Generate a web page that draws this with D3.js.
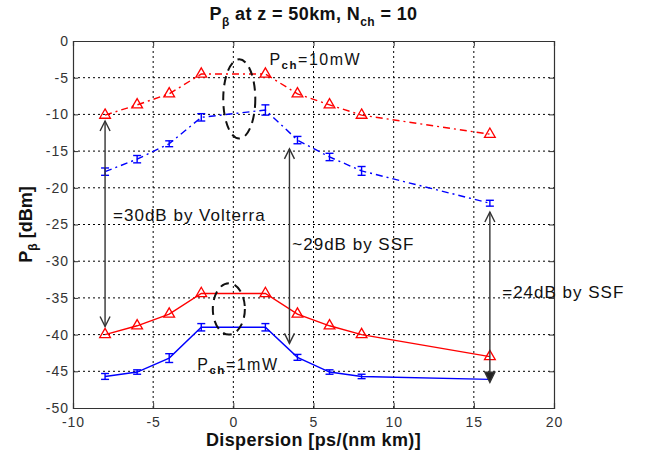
<!DOCTYPE html>
<html>
<head>
<meta charset="utf-8">
<script src="https://cdn.jsdelivr.net/npm/d3@7"></script>
<style>
  body { margin: 0; background: #fff; }
  text { font-family: "Liberation Sans", Arial, sans-serif; }
</style>
</head>
<body>
<div class="svgContainer"></div>
<script>
// Data
var DISPERSION = [-8, -6, -4, -2, 2, 4, 6, 8, 16];
var VOLTERRA_10MW = [-10.1, -8.7, -7.2, -4.5, -4.5, -7.2, -8.7, -10.1, -12.7];
var SSF_10MW = [-17.8, -16.1, -14.0, -10.4, -9.4, -13.5, -15.8, -17.7, -22.1];
var SSF_10MW_ERR = [0.5, 0.5, 0.4, 0.5, 0.7, 0.5, 0.5, 0.6, 0.4];
var VOLTERRA_1MW = [-40.0, -38.8, -37.2, -34.4, -34.4, -37.2, -38.8, -40.0, -43.0];
var SSF_1MW = [-45.7, -45.1, -43.2, -39.0, -39.0, -43.1, -45.1, -45.7, -46.1];
var SSF_1MW_ERR = [0.4, 0.3, 0.6, 0.5, 0.5, 0.4, 0.3, 0.3, 0];
var X_TICKS = [-10, -5, 0, 5, 10, 15, 20];
var Y_TICKS = [0, -5, -10, -15, -20, -25, -30, -35, -40, -45, -50];

// Margin
var margin = {left: 73, right: 94, top: 41, bottom: 46},
    width = 648 - margin.left - margin.right,
    height = 454 - margin.top - margin.bottom;

var svg = d3.select(".svgContainer").append("svg")
    .attr("width", 648)
    .attr("height", 454);

var g = svg.append("g")
    .attr("transform", "translate(" + margin.left + "," + margin.top + ")");

var x = d3.scaleLinear().domain([-10, 20]).range([0, width]);
var y = d3.scaleLinear().domain([-50, 0]).range([height, 0]);

// grid
g.selectAll(".vgrid").data(X_TICKS.slice(1, -1)).enter().append("line")
    .attr("x1", function(d) { return x(d); }).attr("x2", function(d) { return x(d); })
    .attr("y1", 0).attr("y2", height)
    .attr("stroke", "#000").attr("stroke-width", 1).attr("stroke-dasharray", "2,3");
g.selectAll(".hgrid").data(Y_TICKS.slice(1, -1)).enter().append("line")
    .attr("y1", function(d) { return y(d); }).attr("y2", function(d) { return y(d); })
    .attr("x1", 0).attr("x2", width)
    .attr("stroke", "#000").attr("stroke-width", 1).attr("stroke-dasharray", "2,3");

// axes (ticks inward, MATLAB style), plain hyphen minus in labels
var fmt = function(d) { return String(d); };
g.append("g").attr("transform", "translate(0," + height + ")")
    .call(d3.axisBottom(x).tickValues(X_TICKS).tickSize(-5).tickPadding(9).tickFormat(fmt));
g.append("g")
    .call(d3.axisLeft(y).tickValues(Y_TICKS).tickSize(-5).tickPadding(4).tickFormat(fmt));
g.append("g").call(d3.axisTop(x).tickValues(X_TICKS).tickSize(-5).tickFormat(""));
g.append("g").attr("transform", "translate(" + width + ",0)")
    .call(d3.axisRight(y).tickValues(Y_TICKS).tickSize(-5).tickFormat(""));
g.selectAll(".domain").attr("stroke", "#333").attr("stroke-width", 1.2);
g.selectAll(".tick line").attr("stroke", "#333");
g.selectAll(".tick text").attr("font-size", 14).attr("fill", "#333").attr("letter-spacing", 1)
    .attr("font-family", "'Liberation Sans', Arial, sans-serif");

function pts(ys) {
    return DISPERSION.map(function(d, i) { return [d, ys[i]]; });
}
var line = d3.line().x(function(d) { return x(d[0]); }).y(function(d) { return y(d[1]); });

function drawSeries(ys, color, dashed) {
    g.append("path").datum(pts(ys))
        .attr("d", line).attr("fill", "none")
        .attr("stroke", color).attr("stroke-width", 1.4)
        .attr("stroke-dasharray", dashed ? "7,4,2,4" : null);
}

function drawTriangles(ys) {
    g.selectAll(null).data(pts(ys)).enter().append("path")
        .attr("d", d3.symbol().type(d3.symbolTriangle).size(50))
        .attr("transform", function(d) { return "translate(" + x(d[0]) + "," + y(d[1]) + ")"; })
        .attr("fill", "none").attr("stroke", "#ff0000").attr("stroke-width", 1.3);
}

function drawErrors(ys, errs) {
    var data = DISPERSION.map(function(d, i) { return [d, ys[i], errs[i]]; })
        .filter(function(d) { return d[2] > 0; });
    var eb = g.selectAll(null).data(data).enter().append("g")
        .attr("stroke", "#0000ff").attr("stroke-width", 1.4);
    eb.append("line")
        .attr("x1", function(d) { return x(d[0]); }).attr("x2", function(d) { return x(d[0]); })
        .attr("y1", function(d) { return y(d[1] - d[2]); }).attr("y2", function(d) { return y(d[1] + d[2]); });
    [-1, 1].forEach(function(s) {
        eb.append("line")
            .attr("x1", function(d) { return x(d[0]) - 4; }).attr("x2", function(d) { return x(d[0]) + 4; })
            .attr("y1", function(d) { return y(d[1] + s * d[2]); }).attr("y2", function(d) { return y(d[1] + s * d[2]); });
    });
}

drawSeries(VOLTERRA_10MW, "#ff0000", true);
drawSeries(SSF_10MW, "#0000ff", true);
drawSeries(VOLTERRA_1MW, "#ff0000", false);
drawSeries(SSF_1MW, "#0000ff", false);
drawTriangles(VOLTERRA_10MW);
drawTriangles(VOLTERRA_1MW);
drawErrors(SSF_10MW, SSF_10MW_ERR);
drawErrors(SSF_1MW, SSF_1MW_ERR);

// dashed ellipses around D = 0
g.append("ellipse").attr("cx", x(0.37)).attr("cy", y(-7.9))
    .attr("rx", x(1) - x(0)).attr("ry", y(-5.4) - y(0))
    .attr("fill", "none").attr("stroke", "#111").attr("stroke-width", 2).attr("stroke-dasharray", "9,6");
g.append("ellipse").attr("cx", x(-0.28)).attr("cy", y(-36.5))
    .attr("rx", x(1) - x(0)).attr("ry", y(-3.5) - y(0))
    .attr("fill", "none").attr("stroke", "#111").attr("stroke-width", 2).attr("stroke-dasharray", "9,6");

// arrows
function arrowHead(xd, yd, dir, filled) {
    var px = x(xd), py = y(yd);
    var p = d3.path();
    p.moveTo(px - 5, py - dir * 10);
    p.lineTo(px, py);
    p.lineTo(px + 5, py - dir * 10);
    if (filled) p.closePath();
    g.append("path").attr("d", p.toString())
        .attr("fill", filled ? "#222" : "none").attr("stroke", "#333").attr("stroke-width", 1.4);
}
function arrow(xd, y0, y1, filledBottom) {
    g.append("line").attr("x1", x(xd)).attr("x2", x(xd))
        .attr("y1", y(y0)).attr("y2", y(y1))
        .attr("stroke", "#333").attr("stroke-width", 1.4);
    arrowHead(xd, y0, -1, false);
    arrowHead(xd, y1, 1, filledBottom);
}
arrow(-8, -10.9, -38.9, false);
arrow(3.5, -14.7, -41.2, false);
arrow(16, -23.3, -46.5, true);

// annotation texts
function label(xd, yd, parts, size, spacing) {
    var t = g.append("text").attr("x", x(xd)).attr("y", y(yd))
        .attr("font-size", size).attr("fill", "#111").attr("letter-spacing", spacing);
    parts.forEach(function(p) {
        t.append("tspan").text(p[0])
            .attr("font-size", p[1] ? size * 0.72 : size)
            .attr("font-weight", p[1] ? "bold" : null)
            .attr("dy", p[1] ? 4 : (p[2] ? -4 : 0));
    });
}
label(2.25, -3.27, [["P"], ["ch", true], ["=10mW", false, true]], 16, 1.5);
label(-7.5, -24.5, [["=30dB by Volterra"]], 17, 1);
label(3.68, -28.5, [["~29dB by SSF"]], 17, 1);
label(16.77, -35.0, [["=24dB by SSF"]], 17, 1);
label(-2.25, -44.8, [["P"], ["ch", true], ["=1mW", false, true]], 16, 1.5);

// title
var title = svg.append("text").attr("x", margin.left + width / 2).attr("y", 20)
    .attr("text-anchor", "middle").attr("font-size", 18).attr("font-weight", "bold")
    .attr("letter-spacing", 0.4).attr("fill", "#111");
title.append("tspan").text("P");
title.append("tspan").text("β").attr("font-size", 12).attr("dy", 6);
title.append("tspan").text(" at z = 50km, N").attr("dy", -6);
title.append("tspan").text("ch").attr("font-size", 12).attr("dy", 6);
title.append("tspan").text(" = 10").attr("dy", -6);

// x label
svg.append("text").attr("x", margin.left + width / 2).attr("y", 446)
    .attr("text-anchor", "middle").attr("font-size", 18).attr("font-weight", "bold")
    .attr("fill", "#111").attr("letter-spacing", 0.4)
    .text("Dispersion [ps/(nm km)]");

// y label
var ylab = svg.append("text")
    .attr("transform", "translate(32," + (margin.top + height / 2) + ") rotate(-90)")
    .attr("text-anchor", "middle").attr("font-size", 18).attr("font-weight", "bold").attr("fill", "#111");
ylab.append("tspan").text("P");
ylab.append("tspan").text("β").attr("font-size", 12).attr("dy", 5);
ylab.append("tspan").text(" [dBm]").attr("dy", -5);
</script>
</body>
</html>
